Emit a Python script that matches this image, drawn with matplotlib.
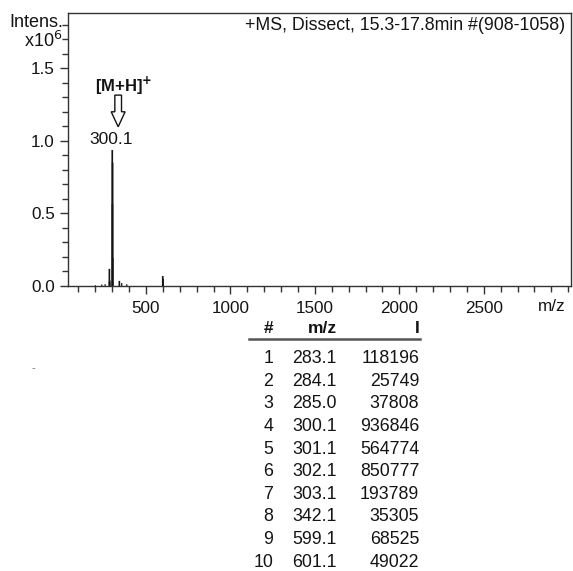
import matplotlib
matplotlib.use("Agg")
import matplotlib.pyplot as plt
import matplotlib.transforms as mtransforms
from matplotlib.patches import Polygon
from matplotlib.ticker import MultipleLocator, FixedLocator

plt.rcParams['font.family'] = ['Liberation Sans', 'DejaVu Sans']

# ---- data ----
peak_rank = [1, 2, 3, 4, 5, 6, 7, 8, 9, 10]
peak_mz = [283.1, 284.1, 285.0, 300.1, 301.1, 302.1, 303.1, 342.1, 599.1, 601.1]
peak_int = [118196, 25749, 37808, 936846, 564774, 850777, 193789, 35305, 68525, 49022]
# minor baseline peaks (x10^6)
minor_mz = [200, 238, 258, 356, 386]
minor_int = [0.005, 0.010, 0.012, 0.020, 0.012]
x_major = [500, 1000, 1500, 2000, 2500]
x_major_labels = ["500", "1000", "1500", "2000", "2500"]
y_major = [0.0, 0.5, 1.0, 1.5]
y_major_labels = ["0.0", "0.5", "1.0", "1.5"]
title = "+MS, Dissect, 15.3-17.8min #(908-1058)"
base_label = "300.1"
ion_label = r"[M+H]$^{\mathbf{+}}$"
table_headers = ["#", "m/z", "I"]

W, H = 573, 571
fig = plt.figure(figsize=(W / 100, H / 100), dpi=100)
ax_l, ax_r, ax_t, ax_b = 68, 570.7, 13, 286
ax = fig.add_axes([ax_l / W, 1 - ax_b / H, (ax_r - ax_l) / W, (ax_b - ax_t) / H])

tc = '#141414'
ax.vlines(minor_mz, 0, minor_int, color=tc, lw=0.9, snap=False)
ax.vlines(peak_mz, 0, [v / 1e6 for v in peak_int], color=tc, lw=1.2, snap=False)

ax.set_xlim(38, 3015)
ax.set_ylim(0, 1.881)

for s in ax.spines.values():
    s.set_color('#333333')
    s.set_linewidth(1.0)

ax.xaxis.set_major_locator(FixedLocator(x_major))
ax.set_xticklabels(x_major_labels)
ax.xaxis.set_minor_locator(MultipleLocator(100))
ax.yaxis.set_major_locator(FixedLocator(y_major))
ax.set_yticklabels(y_major_labels)
ax.yaxis.set_minor_locator(MultipleLocator(0.1))
ax.tick_params(which='major', length=6, width=1.0, color='#333333',
               labelsize=12.3, labelcolor=tc, pad=3.5, direction='out')
ax.tick_params(axis='x', which='major', pad=4.5)
ax.tick_params(which='minor', length=4.5, width=1.0, color='#333333', direction='out')
ax.tick_params(axis='x', which='both', top=False)
ax.tick_params(axis='y', which='both', right=False)

# m/z axis label in tick label row
ax.text(2900, -0.138, "m/z", transform=ax.transData, ha='center', va='center',
        fontsize=12.3, color=tc, clip_on=False)

# Intens. / x10^6 labels on the y axis
yl = mtransforms.blended_transform_factory(ax.transAxes, ax.transData)
ax.text(-0.009, 1.818, "Intens.", transform=yl, ha='right', va='center',
        fontsize=13, color=tc, clip_on=False)
ax.text(-0.012, 1.69, r"x10$^{6}$", transform=yl, ha='right', va='center',
        fontsize=13, color=tc, clip_on=False)

# title inside top-right
ax.text(0.989, 0.956, title, transform=ax.transAxes, ha='right', va='center',
        fontsize=12.8, color=tc)

# peak label and ion annotation
top_i = peak_int.index(max(peak_int))
ax.text(peak_mz[top_i] - 6, 1.006, base_label, ha='center', va='center',
        fontsize=12.5, color=tc)
ax.text(peak_mz[top_i] - 102, 1.339, ion_label, ha='left', va='baseline',
        fontsize=12, color=tc, fontweight='bold')

# hollow down arrow (points relative to tip)
tip_x, tip_y = peak_mz[top_i] + 35, 1.097
pts = [(0, 0), (-5, 10.8), (-2.4, 10.8), (-2.4, 22.8), (2.4, 22.8), (2.4, 10.8), (5, 10.8)]
arr_t = (mtransforms.Affine2D().scale(1 / 72) + fig.dpi_scale_trans +
         mtransforms.ScaledTranslation(tip_x, tip_y, ax.transData))
ax.add_patch(Polygon(pts, closed=True, facecolor='white', edgecolor=tc,
                     lw=1.0, transform=arr_t, clip_on=False))

# peak table below the chart
col_right = [273.3, 336.7, 419.3]
hdr_y = 328.7
for cx, h in zip(col_right, table_headers):
    fig.text(cx / W, 1 - hdr_y / H, h, ha='right', va='center', fontsize=12.5,
             color=tc, fontweight='bold')
fig.add_artist(plt.Line2D([249 / W, 420 / W], [1 - 339.3 / H, 1 - 339.3 / H],
                          color='#555555', lw=1.8, transform=fig.transFigure))
row0, dy = 358.8, 22.58
for i, (r, mz, iv) in enumerate(zip(peak_rank, peak_mz, peak_int)):
    y = 1 - (row0 + i * dy) / H
    fig.text(col_right[0] / W, y, str(r), ha='right', va='center', fontsize=12.8, color=tc)
    fig.text(col_right[1] / W, y, f"{mz:.1f}", ha='right', va='center', fontsize=12.8, color=tc)
    fig.text(col_right[2] / W, y, str(iv), ha='right', va='center', fontsize=12.8, color=tc)

# small stray mark at left
fig.text(33 / W, 1 - 368 / H, "-", ha='center', va='center', fontsize=8, color='#777777')

fig.savefig("out.png", dpi=100)
